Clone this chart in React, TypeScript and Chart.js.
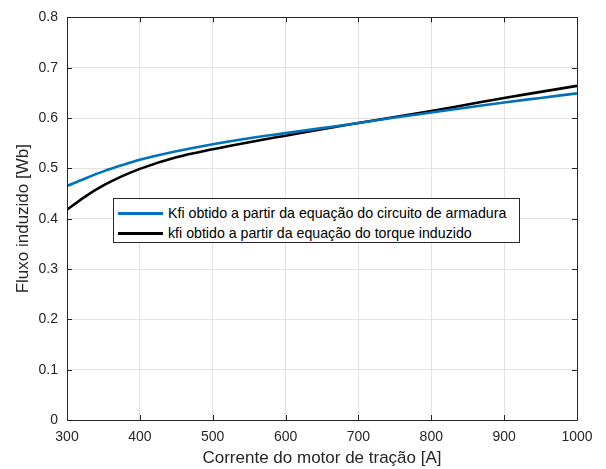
import React, { useEffect, useRef } from "react";
import { Chart, registerables } from "chart.js";

Chart.register(...registerables);

const current = [300, 325, 350, 375, 400, 450, 500, 550, 600, 650, 700, 750, 800, 850, 900, 950, 1000];
const kfiArmadura = [0.465, 0.480, 0.494, 0.506, 0.517, 0.534, 0.548, 0.560, 0.570, 0.580, 0.590, 0.601, 0.611, 0.621, 0.631, 0.640, 0.649];
const kfiTorque = [0.418, 0.444, 0.466, 0.484, 0.499, 0.522, 0.538, 0.552, 0.565, 0.578, 0.590, 0.602, 0.614, 0.627, 0.640, 0.652, 0.664];
const seriesLabels = [
  "Kfi obtido a partir da equação do circuito de armadura",
  "kfi obtido a partir da equação do torque induzido",
];
const seriesColors = ["#0072BD", "#000000"];
const xTitle = "Corrente do motor de tração [A]";
const yTitle = "Fluxo induzido [Wb]";

const FONT = "'Liberation Sans', Arial, Helvetica, sans-serif";
const AXIS_COLOR = "#262626";

const boxPlugin = {
  id: "matlabBox",
  afterDraw(chart: any) {
    const { ctx, chartArea } = chart;
    const { left, right, top, bottom } = chartArea;
    ctx.save();
    ctx.strokeStyle = AXIS_COLOR;
    ctx.lineWidth = 1;
    ctx.beginPath();
    ctx.rect(Math.round(left) + 0.5, Math.round(top) + 0.5, Math.round(right - left), Math.round(bottom - top));
    ctx.stroke();
    const tl = 5;
    const xs = chart.scales.x;
    const ys = chart.scales.y;
    ctx.beginPath();
    xs.ticks.forEach((t: any) => {
      const px = Math.round(xs.getPixelForValue(t.value)) + 0.5;
      ctx.moveTo(px, bottom);
      ctx.lineTo(px, bottom - tl);
      ctx.moveTo(px, top);
      ctx.lineTo(px, top + tl);
    });
    ys.ticks.forEach((t: any) => {
      const py = Math.round(ys.getPixelForValue(t.value)) + 0.5;
      ctx.moveTo(left, py);
      ctx.lineTo(left + tl, py);
      ctx.moveTo(right, py);
      ctx.lineTo(right - tl, py);
    });
    ctx.stroke();
    ctx.restore();
  },
};

export default function App() {
  const canvasRef = useRef<HTMLCanvasElement | null>(null);

  useEffect(() => {
    document.body.style.margin = "0";
    const canvas = canvasRef.current;
    if (!canvas) return;
    const chart = new Chart(canvas, {
      type: "line",
      data: {
        datasets: [
          {
            label: seriesLabels[0],
            data: current.map((x, i) => ({ x, y: kfiArmadura[i] })),
            borderColor: seriesColors[0],
            backgroundColor: seriesColors[0],
            borderWidth: 2.6,
            pointRadius: 0,
            cubicInterpolationMode: "monotone",
          },
          {
            label: seriesLabels[1],
            data: current.map((x, i) => ({ x, y: kfiTorque[i] })),
            borderColor: seriesColors[1],
            backgroundColor: seriesColors[1],
            borderWidth: 2.6,
            pointRadius: 0,
            cubicInterpolationMode: "monotone",
          },
        ],
      },
      options: {
        responsive: false,
        animation: false,
        devicePixelRatio: 1,
        layout: { padding: { left: 0, right: 29, top: 17, bottom: 0 } },
        plugins: {
          legend: { display: false },
          tooltip: { enabled: false },
        },
        scales: {
          x: {
            type: "linear",
            min: 300,
            max: 1000,
            afterFit: (s: any) => {
              s.height = 49;
            },
            ticks: {
              stepSize: 100,
              color: AXIS_COLOR,
              font: { family: FONT, size: 14 },
              padding: 9,
              maxRotation: 0,
              callback: (v: any) => String(v),
            },
            grid: { color: "#e3e3e3", drawTicks: false },
            border: { display: false },
            title: {
              display: true,
              text: xTitle,
              color: AXIS_COLOR,
              font: { family: FONT, size: 17 },
              padding: { top: 0, bottom: 0 },
            },
          },
          y: {
            type: "linear",
            min: 0,
            max: 0.8,
            afterFit: (s: any) => {
              s.width = 67;
            },
            ticks: {
              stepSize: 0.1,
              color: AXIS_COLOR,
              font: { family: FONT, size: 14 },
              padding: 9,
              callback: (v: any) => (Math.round(Number(v) * 10) / 10).toString(),
            },
            grid: { color: "#e3e3e3", drawTicks: false },
            border: { display: false },
            title: {
              display: true,
              text: yTitle,
              color: AXIS_COLOR,
              font: { family: FONT, size: 17 },
              padding: { top: 13, bottom: 0 },
            },
          },
        },
      },
      plugins: [boxPlugin],
    });
    return () => chart.destroy();
  }, []);

  return (
    <div style={{ position: "relative", width: 606, height: 469, background: "#fff" }}>
      <canvas ref={canvasRef} width={606} height={469} style={{ display: "block" }} />
      <div
        style={{
          position: "absolute",
          left: 113,
          top: 198,
          width: 405,
          height: 43,
          border: "1px solid #262626",
          background: "#fff",
          fontFamily: FONT,
          fontSize: 14.2,
          color: "#000",
        }}
      >
        {seriesLabels.map((lab, i) => (
          <div
            key={lab}
            style={{
              position: "absolute",
              left: 4,
              top: 4 + i * 20,
              height: 20,
              display: "flex",
              alignItems: "center",
              whiteSpace: "nowrap",
            }}
          >
            <span
              style={{
                display: "inline-block",
                width: 45,
                height: 3,
                background: seriesColors[i],
                marginRight: 5,
              }}
            />
            <span>{lab}</span>
          </div>
        ))}
      </div>
    </div>
  );
}
